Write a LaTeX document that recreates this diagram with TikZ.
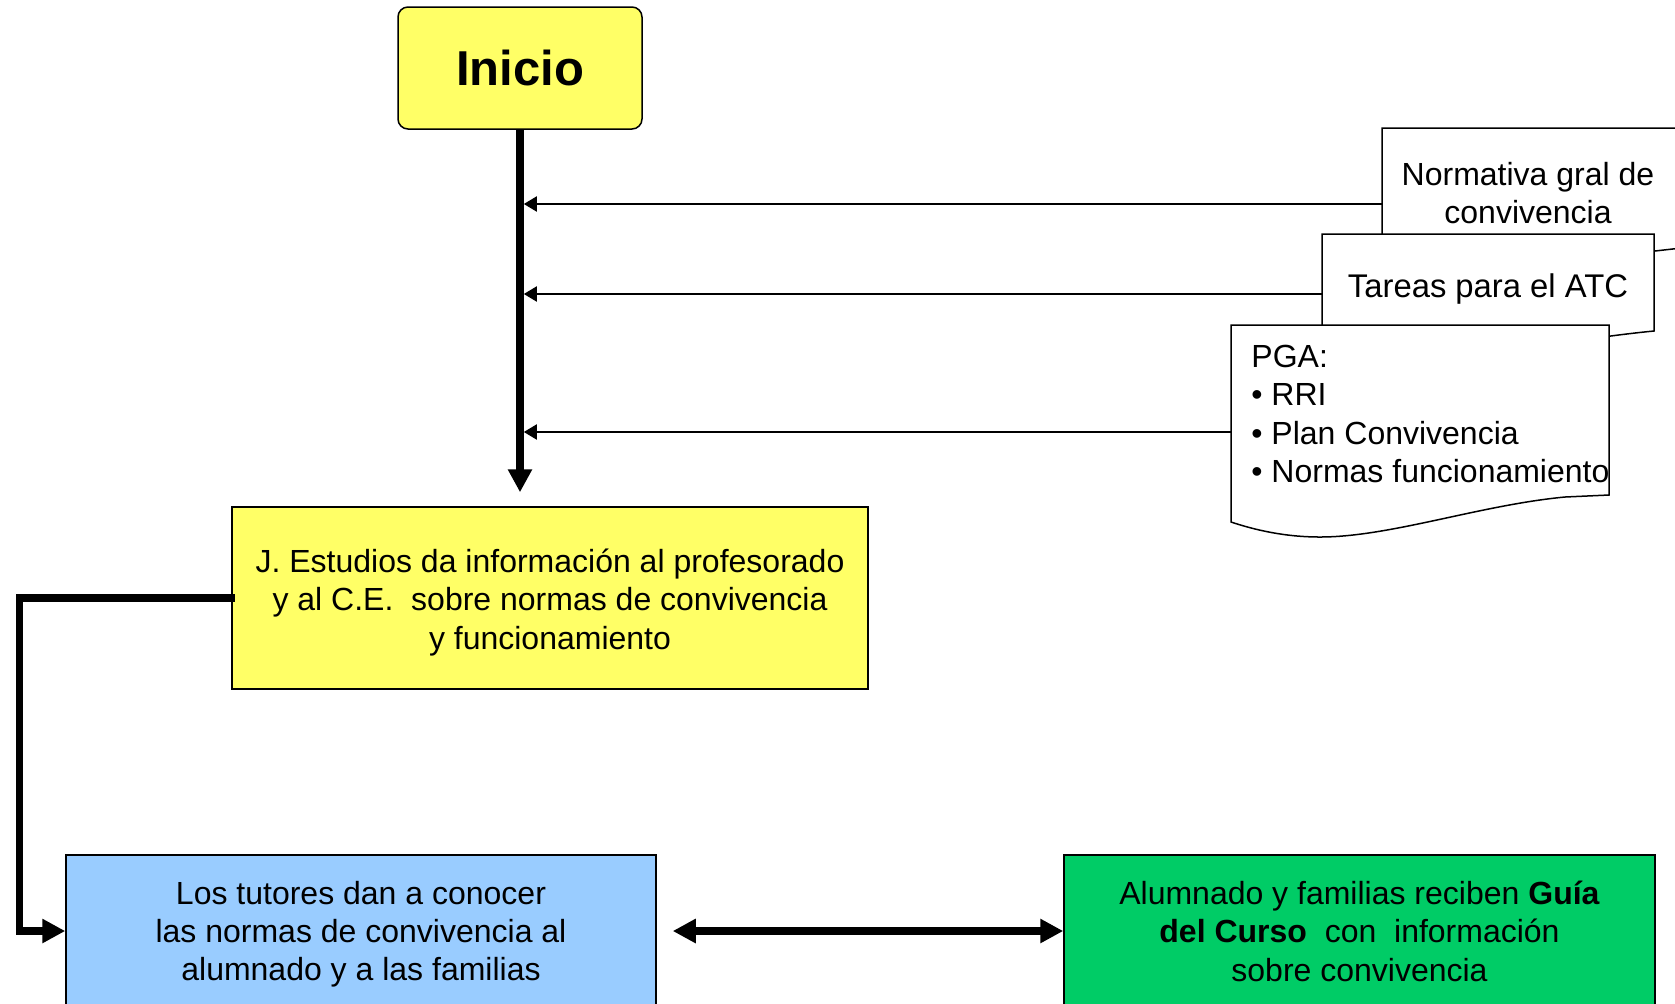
\documentclass[tikz,border=0pt]{standalone}
\usepackage{fontspec}
\setmainfont{Liberation Sans}
\usetikzlibrary{arrows.meta,calc}
\definecolor{boxyellow}{HTML}{FFFF66}
\definecolor{boxblue}{HTML}{99CCFF}
\definecolor{boxgreen}{HTML}{00CC66}
\tikzset{
  txt/.style={font=\fontsize{16}{19.2}\selectfont, align=center, inner sep=0pt},
  procbox/.style={draw=black, line width=0.75pt, inner sep=0pt},
  docshape/.style={draw=black, line width=0.75pt, fill=white},
  thinarrow/.style={line width=1pt, -{Triangle[length=6.5pt,width=7.5pt]}},
  thickline/.style={line width=3.7pt},
  thickarrow/.style={thickline, -{Triangle[length=11.5pt,width=11.5pt]}},
  thickdouble/.style={thickline, {Triangle[length=11.5pt,width=11.5pt]}-{Triangle[length=11.5pt,width=11.5pt]}},
}
\begin{document}
\begin{tikzpicture}[x=0.5pt,y=-0.5pt]
\clip (0,0) rectangle (1675,1003);
\useasboundingbox (0,0) rectangle (1675,1003);

% Start
\node[procbox, fill=boxyellow, rounded corners=5pt, minimum width=122pt, minimum height=61pt,
      font=\fontsize{24.5}{29}\selectfont\bfseries] (inicio) at (520,68) {Inicio};

% Document shapes (back to front)
\draw[docshape] (1382,128) -- (1720,128) -- (1720,245) .. controls (1690,247) .. (1655,251)
   .. controls (1550,262) and (1470,290) .. (1382,285) -- cycle;
\node[txt] (normativa) at ([yshift=0.5pt]1528,194) {Normativa gral de\\convivencia};
\coordinate (normw) at (1382,204);

\draw[docshape] (1322,234) -- (1654,234) -- (1654,331) .. controls (1560,340) and (1420,370) .. (1322,352) -- cycle;
\node[txt, font=\fontsize{16.4}{19.2}\selectfont] (tareas) at ([yshift=-1pt]1488,287) {Tareas para el ATC};
\coordinate (tareasw) at (1322,294);

\draw[docshape] (1231,325) -- (1609,325) -- (1609,495) -- (1565,497)
   .. controls (1480,505) and (1390,537) .. (1320,537)
   .. controls (1285,537) and (1255,530) .. (1231,522) -- cycle;
\node[txt, align=left, anchor=west] (pga) at (1251,414) {PGA:\\\textbullet\ RRI\\\textbullet\ Plan Convivencia\\\textbullet\ Normas funcionamiento};
\coordinate (pgaw) at (1231,432);

% Process boxes
\node[procbox, fill=boxyellow, minimum width=318pt, minimum height=91pt] (jest) at (550,598) {};
\node[txt] (jest-text) at ([yshift=-2.1pt]jest.center)
  {J. Estudios da información al profesorado\\y al C.E.\ \ sobre normas de convivencia\\y funcionamiento};
\node[procbox, fill=boxblue, minimum width=295pt, minimum height=76pt] (tutores) at (361,931) {};
\node[txt] (tutores-text) at ([yshift=-1.6pt]tutores.center)
  {Los tutores dan a conocer\\las normas de convivencia al\\alumnado y a las familias};
\node[procbox, fill=boxgreen, minimum width=295.5pt, minimum height=76pt] (guia) at (1359.5,931) {};
\node[txt] (guia-text) at (guia.center)
  {Alumnado y familias reciben \textbf{Guía}\\\textbf{del Curso}\ \ con\ \ información\\sobre convivencia};

% Main flow
\draw[thickarrow, shorten >=7pt] (inicio.south) -- (inicio.south |- jest.north);
\draw[thinarrow, shorten >=1.9pt] (normw) -- (inicio.south |- normw);
\draw[thinarrow, shorten >=1.9pt] (tareasw) -- (inicio.south |- tareasw);
\draw[thinarrow, shorten >=1.9pt] (pgaw) -- (inicio.south |- pgaw);

\draw[thickarrow, line cap=rect] (jest.west) -- ++(-212,0) |- (tutores.west);
\draw[thickdouble, shorten <=8pt] (tutores.east) -- (guia.west);
\end{tikzpicture}
\end{document}
